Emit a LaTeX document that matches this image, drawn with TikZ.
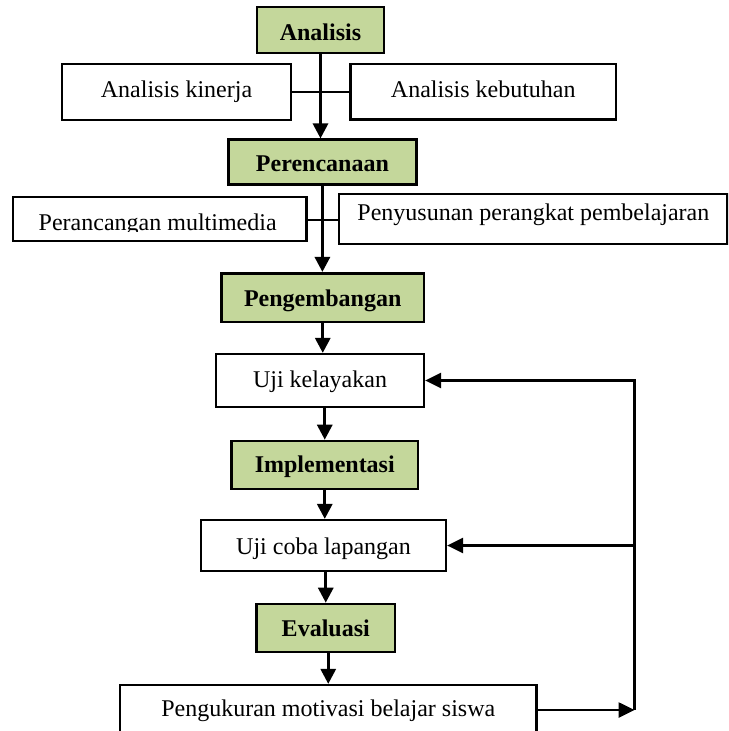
\documentclass[tikz,border=0pt]{standalone}
\usepackage{fontspec}
\setmainfont{Liberation Serif}
\usetikzlibrary{arrows.meta,calc}
\definecolor{stagegreen}{RGB}{196,215,155}
\begin{document}
\begin{tikzpicture}[x=0.5pt,y=-0.5pt,
  box/.style={draw=black, line width=1.1pt, fill=white, inner sep=0pt,
    text height=8pt, text depth=0pt, font=\fontsize{12}{14}\selectfont},
  stage/.style={box, fill=stagegreen, line width=1.3pt,
    font=\fontsize{12}{14}\selectfont\bfseries},
  flow/.style={line width=1.5pt, -{Triangle[length=7.5pt,width=7.5pt]}},
  link/.style={line width=1pt},
  back/.style={line width=1.3pt},
  backarrow/.style={back, -{Triangle[length=8pt,width=7.5pt]}},
]
\useasboundingbox (0,0) rectangle (728,731);
\clip (0,0) rectangle (728,731);

% stage boxes
\node[stage, minimum width=63.5pt, minimum height=23pt, text height=10.7pt] (ana) at (320.5,30) {Analisis};
\node[box, minimum width=114.2pt, minimum height=27.9pt, text height=5.7pt] (ak) at (176.5,92) {Analisis kinerja};
\node[box, minimum width=132.75pt, minimum height=27.75pt, text height=5.7pt] (akb) at (483.25,91.7) {Analisis kebutuhan};
\node[stage, minimum width=94pt, minimum height=22.25pt, text height=9.7pt] (per) at (322.4,162) {Perencanaan};
\node[box, minimum width=146.9pt, minimum height=22pt] (pm) at (159.6,219.3) {};
\begin{scope}
  \clip (10,190) rectangle (310,231.5);
  \node[box, draw=none, fill=none, text height=11pt] (pmtext) at (157.7,219.3) {Perancangan multimedia};
\end{scope}
\node[box, minimum width=194.1pt, minimum height=25pt, text height=1.7pt] (pp) at (533.4,219.3) {Penyusunan perangkat pembelajaran};
\node[stage, minimum width=101.25pt, minimum height=24.35pt, text height=8.5pt] (peng) at (322.75,297.6) {Pengembangan};
\node[box, minimum width=104pt, minimum height=26.5pt, text height=6.8pt] (uk) at (320,380.5) {Uji kelayakan};
\node[stage, minimum width=93.25pt, minimum height=24pt, text height=7.7pt] (impl) at (324.75,465) {Implementasi};
\node[box, minimum width=122.5pt, minimum height=25.5pt, text height=8.5pt] (uc) at (323.5,545.5) {Uji coba lapangan};
\node[stage, minimum width=69.25pt, minimum height=24pt, text height=8.7pt] (eva) at (325.75,628) {Evaluasi};
\node[box, minimum width=208.25pt, minimum height=25pt, text height=6.7pt] (pk) at (328.25,710) {Pengukuran motivasi belajar siswa};

% side links
\draw[link] (ak.east) -- (ak.east -| akb.west);
\draw[link] ($(pm.east)+(-2,1)$) -- ($(pp.west)+(2,1)$);

% main flow
\draw[flow] (ana.south) -- (ana.south |- per.north);
\draw[flow] (per.south) -- (per.south |- peng.north);
\draw[flow] (peng.south) -- (peng.south |- uk.north);
\draw[flow] (impl.north |- uk.south) -- (impl.north);
\draw[flow] (impl.south) -- (impl.south |- uc.north);
\draw[flow] (eva.north |- uc.south) -- (eva.north);
\draw[flow] (pk.north |- eva.south) -- (pk.north);

% feedback loop
\coordinate (fb) at (634.5,710);
\draw[backarrow] (pk.east) -- (fb);
\draw[backarrow] (fb) -- (fb |- uk.east) -- (uk.east);
\draw[backarrow] (fb |- uc.east) -- (uc.east);
\end{tikzpicture}
\end{document}
